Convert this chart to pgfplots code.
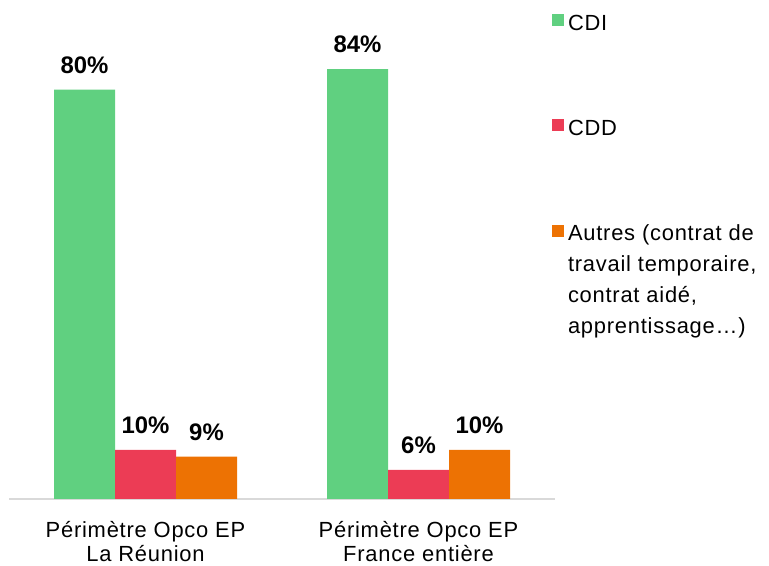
\documentclass[border=0pt]{standalone}
\usepackage{pgfplots}
\pgfplotsset{compat=1.18}
\usepackage{fontspec}
\setmainfont{Liberation Sans}
\newfontfamily\spaced[LetterSpace=3.5]{Liberation Sans}
\definecolor{cgreen}{HTML}{60D080}
\definecolor{cred}{HTML}{EC3C55}
\definecolor{corange}{HTML}{ED7203}
\definecolor{caxis}{HTML}{D9D9D9}
\begin{document}
\begin{tikzpicture}
\useasboundingbox (0,0) rectangle (769bp,566bp);
\begin{axis}[
  at={(9bp,67bp)}, anchor=south west,
  scale only axis, width=546bp, height=499bp,
  xmin=-0.5, xmax=1.5, ymin=0, ymax=97.5,
  ybar=0pt, bar width=61bp,
  axis x line=bottom, axis y line=none,
  axis line style={draw=caxis, line width=1.5bp, -},
  xtick={0,1},
  xticklabels={{Périmètre Opco EP\\La Réunion},{Périmètre Opco EP\\France entière}},
  xtick style={draw=none},
  xticklabel style={align=center, font=\spaced\fontsize{22}{24}\selectfont, inner sep=0pt, yshift=-20.5bp},
  nodes near coords, point meta=explicit symbolic,
  nodes near coords style={font=\fontsize{24}{28}\selectfont\bfseries, inner sep=0pt, anchor=south, yshift=16bp},
  legend cell align=left,
  legend style={at={(axis description cs:0.9945,0.9825)}, anchor=north west,
    draw=none, fill=none, inner sep=0pt, outer sep=0pt,
    row sep=82bp, column sep=4bp,
    nodes={inner sep=0pt},
    font=\spaced\fontsize{22}{31}\selectfont},
  legend image code/.code={\fill[#1] (0bp,-6bp) rectangle (12bp,6bp);},
]
\addplot[fill=cgreen, draw=none] coordinates {(0,80) [80\%] (1,84) [84\%]};
\addlegendentry{\begin{tabular}[t]{@{}l@{}}CDI\end{tabular}}
\addplot[fill=cred, draw=none] coordinates {(0,9.6) [10\%] (1,5.7) [6\%]};
\addlegendentry{\begin{tabular}[t]{@{}l@{}}CDD\end{tabular}}
\addplot[fill=corange, draw=none] coordinates {(0,8.3) [9\%] (1,9.6) [10\%]};
\addlegendentry{\begin{tabular}[t]{@{}l@{}}Autres (contrat de\\travail temporaire,\\contrat aidé,\\apprentissage…)\end{tabular}}
\end{axis}
\end{tikzpicture}
\end{document}
